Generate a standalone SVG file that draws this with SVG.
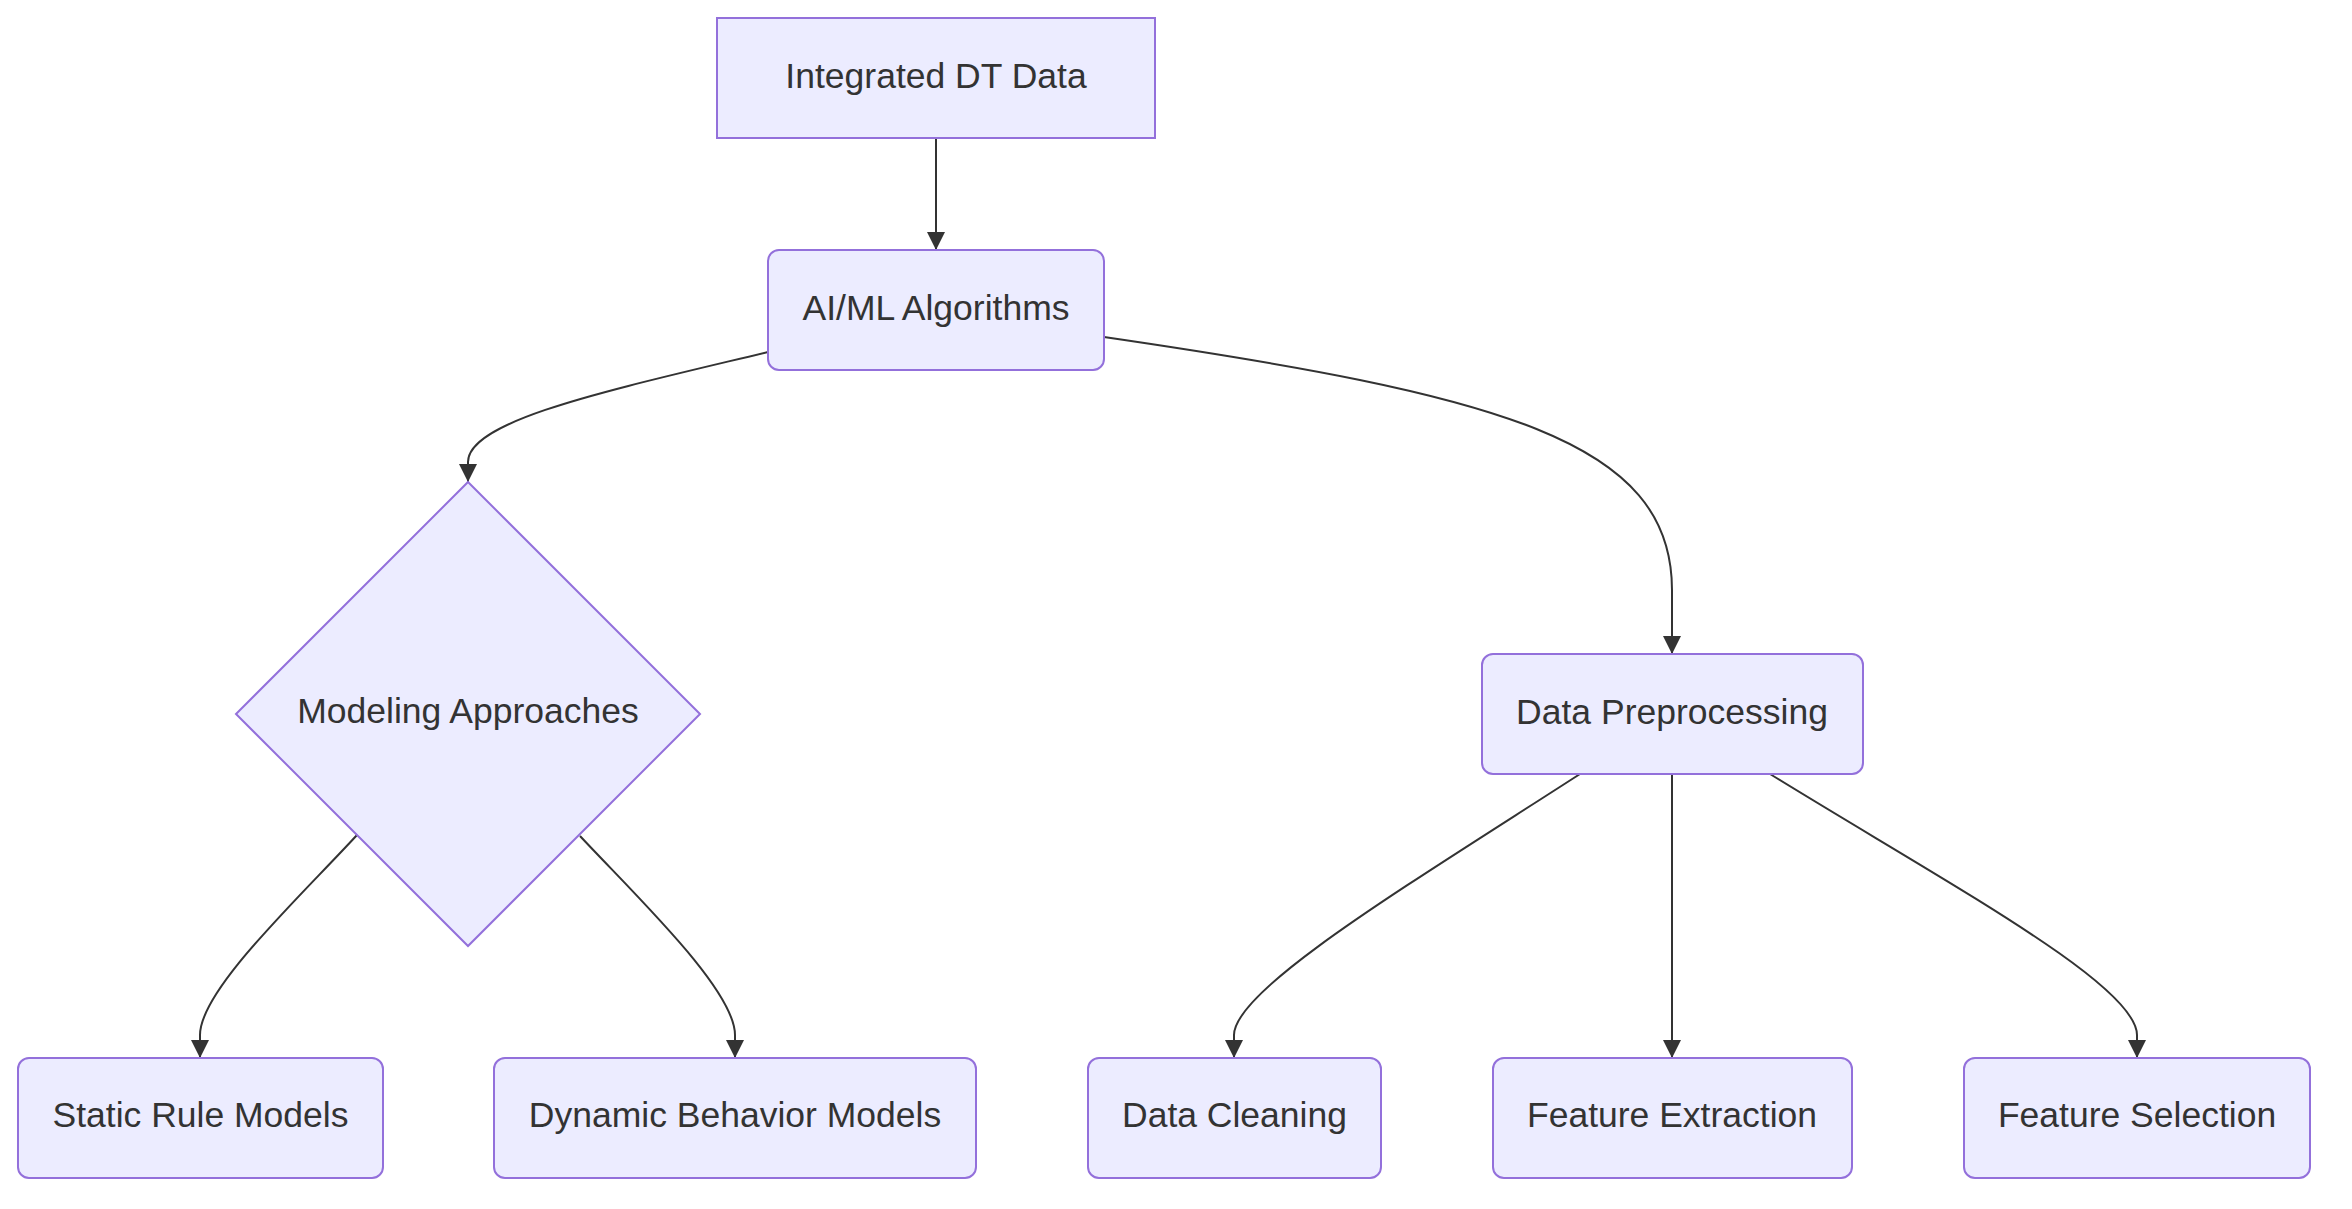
<svg xmlns="http://www.w3.org/2000/svg" width="2352" height="1209" viewBox="0 0 2352 1209">
<style>
.node rect, .node polygon { fill: #ECECFF; stroke: #9370DB; stroke-width: 2; }
.node text { font-family: "Liberation Sans", Arial, sans-serif; font-size: 35.5px; fill: #333333; text-anchor: middle; }
.edges path { fill: none; stroke: #333333; stroke-width: 2; }
</style>
<defs>
<marker id="arrow" viewBox="0 0 10 10" refX="10" refY="5" markerUnits="userSpaceOnUse" markerWidth="18" markerHeight="18" orient="auto">
<path d="M0,0 L10,5 L0,10 z" fill="#333333"/>
</marker>
</defs>
<rect width="2352" height="1209" fill="#ffffff"/>
<g id="edges" class="edges">
<path d="M936,138 L936,250" marker-end="url(#arrow)"/>
<path d="M768,352 C610,390 468,420 468,462 L468,482" marker-end="url(#arrow)"/>
<path d="M1104,337 C1500,395 1672,440 1672,590 L1672,654" marker-end="url(#arrow)"/>
<path d="M357,835 C300,897 200,990 200,1035 L200,1058" marker-end="url(#arrow)"/>
<path d="M580,836 C637,897 735,990 735,1035 L735,1058" marker-end="url(#arrow)"/>
<path d="M1580,774 C1400,890 1234,990 1234,1035 L1234,1058" marker-end="url(#arrow)"/>
<path d="M1672,774 L1672,1058" marker-end="url(#arrow)"/>
<path d="M1770,774 C1950,885 2137,985 2137,1035 L2137,1058" marker-end="url(#arrow)"/>
</g>
<g id="node-integrated" class="node">
<rect x="717" y="18" width="438" height="120"/>
<text x="936" y="87.5">Integrated DT Data</text>
</g>
<g id="node-aiml" class="node">
<rect x="768" y="250" width="336" height="120" rx="11" ry="11"/>
<text x="936" y="319.5">AI/ML Algorithms</text>
</g>
<g id="node-modeling" class="node">
<polygon points="468,482 700,714 468,946 236,714"/>
<text x="468" y="723">Modeling Approaches</text>
</g>
<g id="node-preprocessing" class="node">
<rect x="1482" y="654" width="381" height="120" rx="11" ry="11"/>
<text x="1672" y="723.5">Data Preprocessing</text>
</g>
<g id="node-static" class="node">
<rect x="18" y="1058" width="365" height="120" rx="11" ry="11"/>
<text x="200.5" y="1127">Static Rule Models</text>
</g>
<g id="node-dynamic" class="node">
<rect x="494" y="1058" width="482" height="120" rx="11" ry="11"/>
<text x="735" y="1127">Dynamic Behavior Models</text>
</g>
<g id="node-cleaning" class="node">
<rect x="1088" y="1058" width="293" height="120" rx="11" ry="11"/>
<text x="1234.5" y="1127">Data Cleaning</text>
</g>
<g id="node-extraction" class="node">
<rect x="1493" y="1058" width="359" height="120" rx="11" ry="11"/>
<text x="1672" y="1127">Feature Extraction</text>
</g>
<g id="node-selection" class="node">
<rect x="1964" y="1058" width="346" height="120" rx="11" ry="11"/>
<text x="2137" y="1127">Feature Selection</text>
</g>
</svg>
